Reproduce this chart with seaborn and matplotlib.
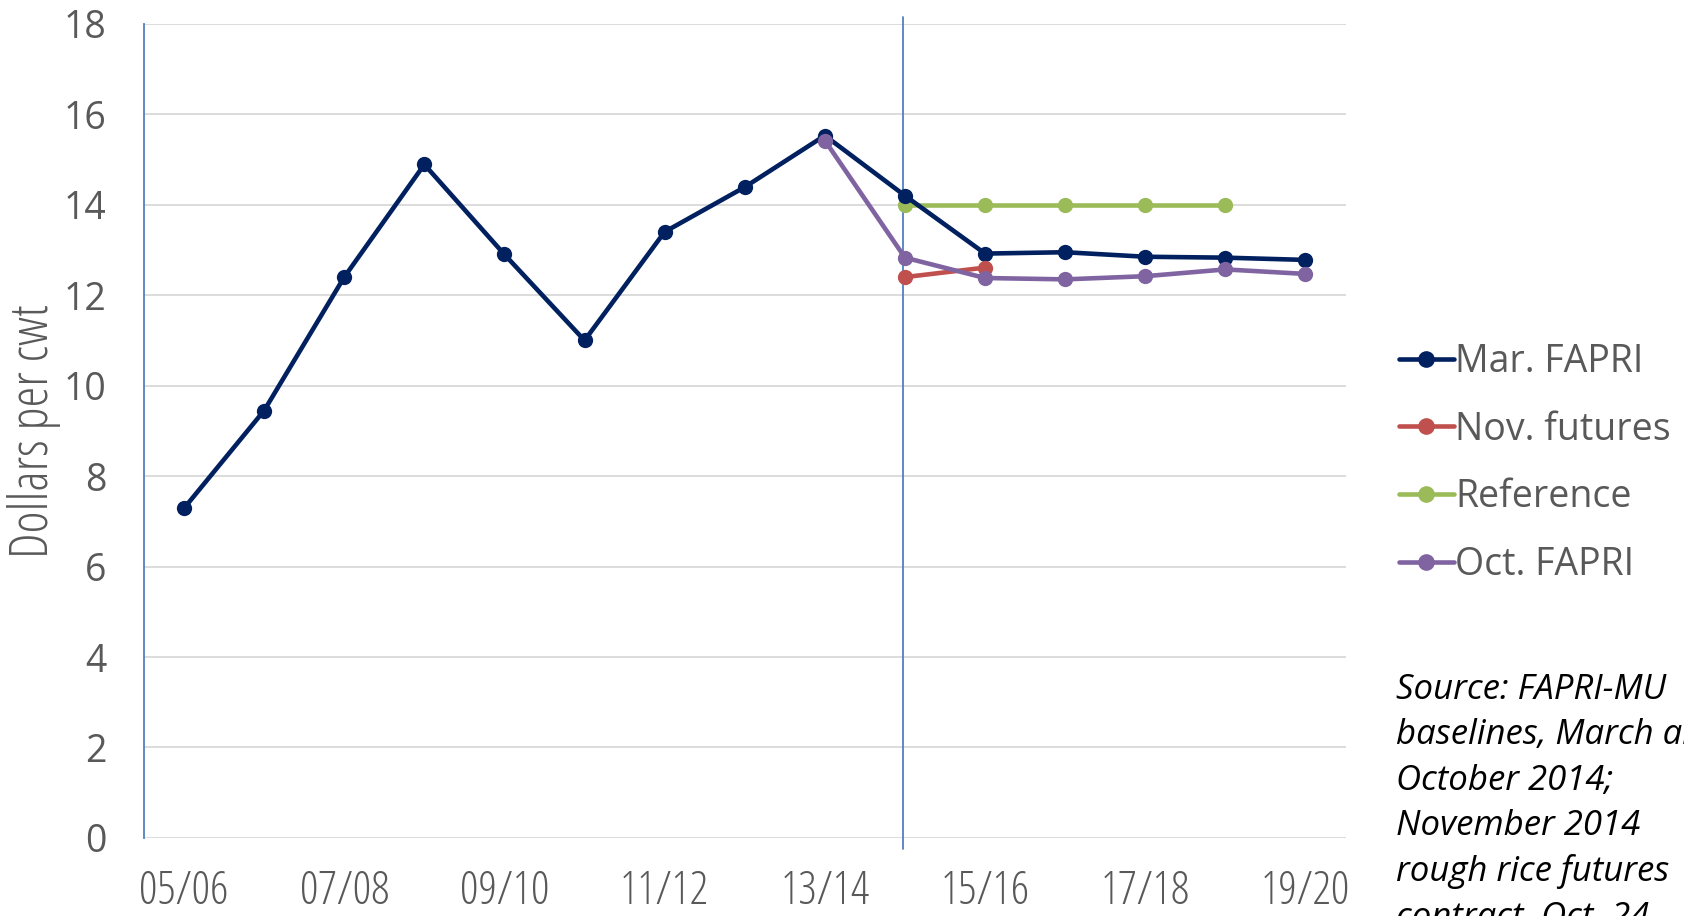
import numpy as np
import pandas as pd
import matplotlib
matplotlib.use("Agg")
import matplotlib.pyplot as plt
import seaborn as sns
from matplotlib.lines import Line2D

years = ["05/06", "06/07", "07/08", "08/09", "09/10", "10/11", "11/12", "12/13",
         "13/14", "14/15", "15/16", "16/17", "17/18", "18/19", "19/20"]
mar_fapri = [7.29, 9.45, 12.40, 14.89, 12.90, 11.00, 13.40, 14.39,
             15.53, 14.20, 12.92, 12.95, 12.85, 12.83, 12.78]
oct_years = ["13/14", "14/15", "15/16", "16/17", "17/18", "18/19", "19/20"]
oct_fapri = [15.42, 12.83, 12.38, 12.35, 12.42, 12.57, 12.47]
nov_years = ["14/15", "15/16"]
nov_futures = [12.40, 12.61]
ref_years = ["14/15", "15/16", "16/17", "17/18", "18/19"]
reference = [14.0, 14.0, 14.0, 14.0, 14.0]

series_names = ["Mar. FAPRI", "Nov. futures", "Reference", "Oct. FAPRI"]
colors = {"Mar. FAPRI": "#002060", "Nov. futures": "#C0504D",
          "Reference": "#9BBB59", "Oct. FAPRI": "#8064A2"}

frames = [
    pd.DataFrame({"year": years, "value": mar_fapri, "series": "Mar. FAPRI"}),
    pd.DataFrame({"year": nov_years, "value": nov_futures, "series": "Nov. futures"}),
    pd.DataFrame({"year": ref_years, "value": reference, "series": "Reference"}),
    pd.DataFrame({"year": oct_years, "value": oct_fapri, "series": "Oct. FAPRI"}),
]
df = pd.concat(frames, ignore_index=True)
pos = {y: i for i, y in enumerate(years)}
df["x"] = df["year"].map(pos)

sns.set_theme(style="white")
plt.rcParams["font.family"] = ["Open Sans", "DejaVu Sans"]

fig = plt.figure(figsize=(16.84, 9.16), dpi=100)
ax = fig.add_axes([0.0855, 0.0852, 0.799 - 0.0855, 0.974 - 0.0852])

draw_order = ["Reference", "Mar. FAPRI", "Nov. futures", "Oct. FAPRI"]
for name in draw_order:
    sub = df[df["series"] == name]
    sns.lineplot(data=sub, x="x", y="value", ax=ax, color=colors[name],
                 marker="o", markersize=11, markeredgewidth=0, linewidth=3.3,
                 legend=False, zorder=3, sort=False)

ax.set_xlim(-0.5, len(years) - 0.5)
ax.set_ylim(0, 18)
ax.set_yticks(np.arange(0, 19, 2))
ax.set_xticks(np.arange(0, len(years), 2))
ax.set_xticklabels(years[::2])
ax.grid(axis="y", color="#D9D9D9", linewidth=1.3)
ax.grid(axis="x", visible=False)
for s in ["top", "right", "bottom"]:
    ax.spines[s].set_visible(False)
ax.spines["left"].set_color("#4F81BD")
ax.spines["left"].set_linewidth(1.3)

ax.tick_params(axis="y", labelsize=27, labelcolor="#595959", length=0, pad=27)
ax.tick_params(axis="x", labelsize=33, labelcolor="#595959", length=0, pad=22)
for lab in ax.get_xticklabels():
    lab.set_fontstretch("condensed")

ax.set_xlabel("")
ax.set_ylabel("Dollars per cwt", fontsize=38, color="#595959", labelpad=2,
              fontstretch="condensed")

ax.axvline(8.97, ymin=-0.013, ymax=1.008, color="#4F81BD", linewidth=1.3,
           clip_on=False, zorder=2)

handles = [Line2D([0], [0], color=colors[n], marker="o", markersize=12,
                  markeredgewidth=0, linewidth=3.3) for n in series_names]
fig.legend(handles, series_names, loc="upper left",
           bbox_to_anchor=(0.822, 0.642), frameon=False, fontsize=27,
           handlelength=1.45, handletextpad=0.05, labelspacing=0.79,
           labelcolor="#595959", borderaxespad=0)

fig.text(0.829, 0.265,
         "Source: FAPRI-MU\nbaselines, March and\nOctober 2014;\nNovember 2014\nrough rice futures\ncontract, Oct. 24,\n2014",
         fontsize=25, style="italic", color="black", va="top", ha="left",
         linespacing=1.43)

fig.savefig("out.png", dpi=100)
